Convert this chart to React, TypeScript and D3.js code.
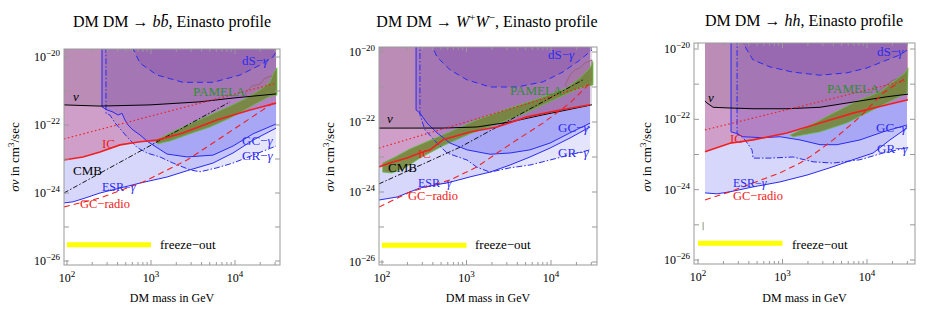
import * as d3 from "d3";
import React from "react";

type Pt = [number, number];

// ---------- DM DM -> b bbar ----------
const bbGC: Pt[] = [[261, 2e-20], [261, 3.4e-22], [299, 2.8e-22], [353, 2.4e-22], [405, 1.96e-22], [452, 2.2e-22], [490, 1.4e-22], [532, 1e-22], [611, 7.1e-23], [740, 5.1e-23], [921, 3.2e-23], [1550, 1.4e-23], [2685, 1.15e-23], [5470, 1.3e-23], [9460, 2.4e-23], [16400, 5.5e-23], [30800, 1.07e-22]];
const bbGR: Pt[] = [[291, 2e-20], [291, 2.2e-22], [325, 1.96e-22], [373, 1.15e-22], [518, 4.5e-23], [681, 2.2e-23], [896, 1.5e-23], [1280, 1.15e-23], [1830, 7.6e-24], [2910, 4.8e-24], [3830, 4.2e-24], [6100, 5.5e-24], [9460, 7.6e-24], [16400, 1.3e-23], [30800, 2.4e-23]];
const bbESR: Pt[] = [[92, 5.1e-25], [118, 5.5e-25], [164, 7.1e-25], [247, 1e-24], [428, 1.4e-24], [740, 1.96e-24], [1550, 2.95e-24], [2910, 4.8e-24], [5470, 7.6e-24], [9460, 1.5e-23], [16400, 3.6e-23], [30800, 8.1e-23]];
const bbIC: Pt[] = [[92, 9.3e-24], [155, 1.15e-23], [247, 1.6e-23], [428, 2.6e-23], [740, 3.2e-23], [1180, 3.6e-23], [2400, 5.8e-23], [6100, 1.4e-22], [15100, 2.75e-22], [30800, 4.4e-22]];
const bbDotted: Pt[] = [[92, 3.9e-23], [30800, 1.7e-21]];
const bbRadio: Pt[] = [[92, 3.9e-25], [247, 7.1e-25], [803, 2.1e-24], [2685, 9.3e-24], [5040, 2.6e-23], [11500, 1e-22], [28300, 4.4e-22]];
const bbCMB: Pt[] = [[92, 1e-24], [8720, 4.8e-22]];
const bbNu: Pt[] = [[92, 3.9e-22], [247, 3.6e-22], [973, 3.9e-22], [3830, 4.8e-22], [9460, 6.2e-22], [30800, 8.2e-22]];
const bbDS: Pt[] = [[594, 2e-20], [740, 6.6e-21], [1180, 2.95e-21], [2400, 1.8e-21], [5470, 1.8e-21], [11500, 2.95e-21], [19860, 5.8e-21], [28300, 1e-20], [30800, 1.4e-20]];
const bbPamela: Pt[] = [[1116, 3.4e-23], [1683, 5.8e-23], [2910, 1.07e-22], [5040, 1.96e-22], [8720, 3.6e-22], [13150, 5.8e-22], [19860, 1.07e-21], [26100, 1.8e-21], [29100, 3.6e-21], [31600, 4.8e-21], [31600, 7.6e-22], [24700, 6.6e-22], [15100, 3.4e-22], [8720, 1.6e-22], [5040, 8.7e-23], [2910, 5.5e-23], [1683, 3.4e-23], [1210, 2.8e-23]];
const bbLoop: Pt[] = [[13150, 8.7e-22], [15900, 1.4e-21], [19860, 1.6e-21], [22800, 2.4e-21], [27560, 2.8e-21], [30760, 3.6e-21], [30760, 1.07e-21], [26100, 1.2e-21], [20900, 9.3e-22], [17300, 7.1e-22], [14300, 6.2e-22]];

// ---------- DM DM -> W+ W- ----------
const wwGC: Pt[] = [[253, 2e-20], [253, 2.2e-22], [281, 1.8e-22], [341, 9.3e-23], [448, 4.9e-23], [638, 2.5e-23], [1015, 1.6e-23], [1900, 1.2e-23], [3270, 1.3e-23], [5640, 1.6e-23], [9730, 2.5e-23], [16800, 4.9e-23], [29000, 9.3e-23]];
const wwGR: Pt[] = [[281, 2e-20], [281, 1.6e-22], [323, 5.9e-23], [448, 2.5e-23], [587, 1.3e-23], [1015, 8.2e-24], [1330, 5.1e-24], [1900, 3.7e-24], [3270, 4.9e-24], [5640, 5.9e-24], [9730, 8.2e-24], [16800, 1.15e-23], [29000, 1.6e-23]];
const wwESR: Pt[] = [[92, 5.9e-25], [151, 7.2e-25], [281, 1.3e-24], [638, 1.9e-24], [1100, 2.7e-24], [1900, 3.7e-24], [3270, 5.9e-24], [5640, 1e-23], [9730, 1.8e-23], [16800, 3.5e-23], [29000, 7.2e-23]];
const wwIC: Pt[] = [[92, 5.2e-24], [124, 6.7e-24], [198, 9.3e-24], [281, 1.3e-23], [370, 1.6e-23], [527, 3.1e-23], [1100, 5.2e-23], [2300, 7.2e-23], [5200, 1.4e-22], [12800, 2.2e-22], [29000, 3.1e-22]];
const wwDotted: Pt[] = [[92, 1.8e-23], [29000, 1.15e-21]];
const wwRadio: Pt[] = [[92, 3.7e-25], [214, 1e-24], [638, 2.2e-24], [1330, 5.2e-24], [2300, 1.3e-23], [3960, 3.1e-23], [8030, 9.3e-23], [16800, 3.5e-22], [29000, 1.3e-21]];
const wwCMB: Pt[] = [[92, 1.7e-24], [837, 1.9e-23], [23900, 1.6e-21]];
const wwNu: Pt[] = [[92, 6.7e-23], [214, 6.7e-23], [527, 6.7e-23], [1330, 7.2e-23], [3270, 1e-22], [8030, 1.6e-22], [30600, 3.1e-22]];
const wwDS: Pt[] = [[370, 2e-20], [448, 7.2e-21], [638, 3.1e-21], [1015, 1.6e-21], [1900, 1e-21], [3960, 1e-21], [8030, 1.4e-21], [13900, 2.7e-21], [22000, 5.9e-21], [30600, 1.15e-20]];
const wwPamela: Pt[] = [[102, 6.7e-24], [143, 1e-23], [214, 1.7e-23], [527, 4.3e-23], [1330, 1.15e-22], [3270, 2.5e-22], [8030, 5.2e-22], [15400, 9.4e-22], [22000, 1.8e-21], [29000, 3.5e-21], [31400, 5.2e-21], [31400, 1.15e-21], [22000, 9.4e-22], [12800, 5.2e-22], [5200, 1.9e-22], [2300, 8.8e-23], [1100, 4.6e-23], [527, 2.1e-23], [281, 9.3e-24], [187, 4.9e-24], [131, 3.5e-24], [102, 3.7e-24]];
const wwLoop: Pt[] = [[14700, 1.15e-21], [16800, 2.2e-21], [19200, 3.1e-21], [22000, 3.5e-21], [25200, 4.9e-21], [30600, 5.9e-21], [30600, 1.6e-21], [25200, 1.4e-21], [20900, 1.07e-21], [16800, 8.2e-22]];

// ---------- DM DM -> h h ----------
const hhGC: Pt[] = [[246, 2e-20], [246, 4.4e-23], [274, 4.1e-23], [341, 3.2e-23], [587, 3e-23], [933, 3.2e-23], [1610, 2.6e-23], [2780, 1.9e-23], [4420, 1.9e-23], [8260, 2.6e-23], [15500, 4.4e-23], [29700, 6.9e-23]];
const hhGR: Pt[] = [[290, 2e-20], [290, 4.1e-23], [360, 2.6e-23], [436, 1.35e-23], [448, 7.9e-24], [711, 7.9e-24], [1330, 8.5e-24], [2300, 6.2e-24], [3960, 5.7e-24], [8260, 7.1e-24], [15500, 1.1e-23], [29700, 1.55e-23]];
const hhESR: Pt[] = [[121, 8.1e-25], [168, 7.6e-25], [239, 8.7e-25], [448, 1.2e-24], [933, 1.66e-24], [1950, 2.6e-24], [3650, 4.2e-24], [6830, 7.1e-24], [11800, 1.1e-23], [18700, 2.6e-23], [29700, 5.7e-23]];
const hhIC: Pt[] = [[121, 1.2e-23], [239, 2.1e-23], [448, 2.6e-23], [1130, 4.1e-23], [2780, 7.9e-23], [6830, 1.5e-22], [17300, 2.6e-22], [30600, 3.6e-22]];
const hhDotted: Pt[] = [[121, 5e-23], [29700, 1.3e-21]];
const hhRadio: Pt[] = [[121, 5.1e-25], [239, 8.7e-25], [448, 1.55e-24], [933, 3e-24], [1610, 5.7e-24], [2300, 9.8e-24], [3960, 2.6e-23], [8260, 1.17e-22], [15500, 5.6e-22], [29700, 1.6e-21]];
const hhNu: Pt[] = [[121, 3.3e-22], [128, 2.9e-22], [151, 2.2e-22], [239, 2.1e-22], [448, 2e-22], [1130, 2e-22], [2780, 2.2e-22], [6830, 3.1e-22], [17300, 4.4e-22], [30600, 5.2e-22]];
const hhDS: Pt[] = [[314, 2e-20], [448, 4.9e-21], [711, 3.1e-21], [1330, 2.2e-21], [2780, 1.8e-21], [5790, 2.1e-21], [10000, 2.9e-21], [17300, 4.9e-21], [24600, 6.8e-21], [29700, 9.3e-21]];
const hhPamela: Pt[] = [[1230, 3.6e-23], [1950, 6e-23], [3960, 1.5e-22], [8260, 3.6e-22], [14300, 6e-22], [20300, 1.15e-21], [28200, 2.1e-21], [30600, 2.9e-21], [29700, 5.6e-22], [20300, 3.6e-22], [11800, 1.86e-22], [5790, 7.9e-23], [2780, 4.4e-23], [1330, 3.2e-23]];
const hhLoop: Pt[] = [[12400, 4.9e-22], [15100, 7.8e-22], [17700, 1.02e-21], [20300, 1.3e-21], [24600, 1.5e-21], [29700, 1.8e-21], [29700, 6e-22], [24600, 5.2e-22], [20300, 4.6e-22], [15900, 4.1e-22]];
const hhMark: Pt[] = [[115, 1.2e-25], [115, 7e-26]];

const freezeOut: Pt[] = [[100, 3e-26], [1000, 3e-26]];
const xTickExps = [2, 3, 4];
const yTickExps = [-20, -22, -24, -26];

const FONT = "'Liberation Serif', 'Times New Roman', serif";
const BLUE = "#2a2af2";
const RED = "#f02020";
const GREEN = "#2f8f2f";

const panels = [
  {
    id: "bb", frame: [64, 49, 280, 265], xr: [67, 235], yr: [57, 261], titleX: 172, titleY: 27, ylabX: 19,
    gc: bbGC, gr: bbGR, esr: bbESR, ic: bbIC, dotted: bbDotted, radio: bbRadio, cmb: bbCMB, nu: bbNu, ds: bbDS, pamela: bbPamela, loop: bbLoop, mark: null,
    lab: { ds: [178, 16], pamela: [129, 47], nu: [9, 52], gc: [178, 96], gr: [178, 111], ic: [38, 99], cmb: [9, 126], esr: [38, 142], radio: [16, 159], freeze: [96, 200] },
  },
  {
    id: "ww", frame: [379, 47, 597, 265], xr: [382, 551], yr: [52, 262], titleX: 487, titleY: 27, ylabX: 334,
    gc: wwGC, gr: wwGR, esr: wwESR, ic: wwIC, dotted: wwDotted, radio: wwRadio, cmb: wwCMB, nu: wwNu, ds: wwDS, pamela: wwPamela, loop: wwLoop, mark: null,
    lab: { ds: [169, 12], pamela: [131, 48], nu: [8, 76], gc: [179, 85], gr: [179, 110], ic: [39, 111], cmb: [9, 125], esr: [39, 140], radio: [29, 153], freeze: [96, 202] },
  },
  {
    id: "hh", frame: [694, 43, 915, 264], xr: [698, 867], yr: [49, 260], titleX: 804, titleY: 26, ylabX: 651,
    gc: hhGC, gr: hhGR, esr: hhESR, ic: hhIC, dotted: hhDotted, radio: hhRadio, cmb: null, nu: hhNu, ds: hhDS, pamela: hhPamela, loop: hhLoop, mark: hhMark,
    lab: { ds: [183, 13], pamela: [133, 50], nu: [14, 59], gc: [182, 89], gr: [183, 110], ic: [36, 100], cmb: null, esr: [39, 144], radio: [39, 157], freeze: [98, 206] },
  },
];

const Title = ({ id }: { id: string }) => {
  if (id === "bb")
    return (<>DM DM → <tspan fontStyle="italic">b</tspan><tspan fontStyle="italic">b&#x0304;</tspan>, Einasto profile</>);
  if (id === "ww")
    return (
      <>DM DM → <tspan fontStyle="italic">W</tspan><tspan dy={-6} fontSize={11}>+</tspan>
        <tspan dy={6} fontStyle="italic">W</tspan><tspan dy={-6} fontSize={11}>−</tspan><tspan dy={6}>, Einasto profile</tspan></>
    );
  return (<>DM DM → <tspan fontStyle="italic">hh</tspan>, Einasto profile</>);
};

const Panel = ({ p }: { p: any }) => {
  const [x0, y0, x1, y1] = p.frame;
  const xs = d3.scaleLog().domain([100, 10000]).range(p.xr);
  const ys = d3.scaleLog().domain([1e-20, 1e-26]).range(p.yr);
  const line = d3.line<Pt>().x((d) => xs(d[0])).y((d) => ys(d[1]));
  const above = (pts: Pt[]) => line([...pts, [pts[pts.length - 1][0], 1e-18], [pts[0][0], 1e-18]]) + "Z";
  const clipId = "clip-" + p.id;

  const xticks: { px: number; major: boolean }[] = [];
  for (let e = 1; e <= 4; e++)
    for (let j = 1; j <= 9; j++) {
      const px = xs(j * 10 ** e);
      if (px > x0 + 0.5 && px < x1 - 0.5) xticks.push({ px, major: j === 1 });
    }
  const yticks: number[] = [];
  for (let e = -26; e <= -20; e++) yticks.push(ys(10 ** e));

  const L = p.lab;
  const lbl = (key: string, content: any, color: string, size = 13) =>
    L[key] ? (
      <text x={x0 + L[key][0]} y={y0 + L[key][1]} fill={color} fontSize={size}>{content}</text>
    ) : null;
  const gam = <tspan fontStyle="italic">γ</tspan>;

  return (
    <g fontFamily={FONT}>
      <defs>
        <clipPath id={clipId}><rect x={x0} y={y0} width={x1 - x0} height={y1 - y0} /></clipPath>
      </defs>
      <text x={p.titleX} y={p.titleY} textAnchor="middle" fontSize={16}><Title id={p.id} /></text>
      <g clipPath={`url(#${clipId})`}>
        <path d={above(p.esr)} fill="rgb(140,140,245)" fillOpacity={0.35} />
        <path d={above(p.gr)} fill="rgb(120,120,240)" fillOpacity={0.2} />
        <path d={above(p.gc)} fill="rgb(100,100,240)" fillOpacity={0.3} />
        <path d={above(p.ic)} fill="rgb(195,75,125)" fillOpacity={0.4} />
        <path d={above(p.nu)} fill="rgb(110,70,110)" fillOpacity={0.2} />
        <path d={above(p.ds)} fill="rgb(110,60,170)" fillOpacity={0.22} />
        <path d={line(p.loop) + "Z"} fill="rgb(175,120,150)" fillOpacity={0.35} stroke="rgb(150,100,125)" strokeWidth={1} />
        <path d={line(p.pamela) + "Z"} fill="rgb(115,135,55)" fillOpacity={0.9} stroke="rgb(100,190,70)" strokeWidth={0.8} />
        {p.mark && <path d={line(p.mark)!} stroke="#8a9a7a" strokeWidth={1} />}
        <path d={line(p.esr)!} fill="none" stroke={BLUE} strokeWidth={1} />
        <path d={line(p.gr)!} fill="none" stroke={BLUE} strokeWidth={1} strokeDasharray="6,2,1.5,2" />
        <path d={line(p.gc)!} fill="none" stroke={BLUE} strokeWidth={1} />
        <path d={line(p.ds)!} fill="none" stroke={BLUE} strokeWidth={1} strokeDasharray="6,4" />
        <path d={line(p.nu)!} fill="none" stroke="#000" strokeWidth={1} />
        {p.cmb && <path d={line(p.cmb)!} fill="none" stroke="#000" strokeWidth={0.9} strokeDasharray="5,2,1.5,2" />}
        <path d={line(p.dotted)!} fill="none" stroke={RED} strokeWidth={1.2} strokeDasharray="1.5,2.5" />
        <path d={line(p.radio)!} fill="none" stroke={RED} strokeWidth={1.1} strokeDasharray="6,4" />
        <path d={line(p.ic)!} fill="none" stroke={RED} strokeWidth={1.6} />
        <path d={line(freezeOut)!} fill="none" stroke="#ffff00" strokeWidth={5} />
      </g>
      {lbl("ds", <>dS−{gam}</>, BLUE)}
      {lbl("pamela", "PAMELA", GREEN)}
      {lbl("nu", <tspan fontStyle="italic">ν</tspan>, "#000")}
      {lbl("gc", <>GC−{gam}</>, BLUE)}
      {lbl("gr", <>GR−{gam}</>, BLUE)}
      {lbl("ic", "IC", RED)}
      {lbl("cmb", "CMB", "#000")}
      {lbl("esr", <>ESR−{gam}</>, BLUE, 12)}
      {lbl("radio", "GC−radio", RED, 12.5)}
      {lbl("freeze", "freeze−out", "#000")}
      <rect x={x0} y={y0} width={x1 - x0} height={y1 - y0} fill="none" stroke="#999" strokeWidth={1} />
      {xticks.map((t, i) => (
        <g key={"xt" + i} stroke="#999">
          <line x1={t.px} x2={t.px} y1={y1} y2={y1 - (t.major ? 5 : 3)} />
          <line x1={t.px} x2={t.px} y1={y0} y2={y0 + (t.major ? 5 : 3)} />
        </g>
      ))}
      {yticks.map((py, i) => (
        <g key={"yt" + i} stroke="#999">
          <line x1={x0} x2={x0 + 5} y1={py} y2={py} />
          <line x1={x1} x2={x1 - 5} y1={py} y2={py} />
        </g>
      ))}
      {xTickExps.map((e) => (
        <text key={"xl" + e} x={xs(10 ** e)} y={y1 + 17} textAnchor="middle" fontSize={12}>
          10<tspan dy={-5} fontSize={9}>{e}</tspan>
        </text>
      ))}
      {yTickExps.map((e) => (
        <text key={"yl" + e} x={x0 - 4} y={ys(10 ** e) + 4} textAnchor="end" fontSize={12}>
          10<tspan dy={-5} fontSize={9}>{"−" + Math.abs(e)}</tspan>
        </text>
      ))}
      <text x={(x0 + x1) / 2} y={302} textAnchor="middle" fontSize={12}>DM mass in GeV</text>
      <text transform={`translate(${p.ylabX},157) rotate(-90)`} textAnchor="middle" fontSize={13}>
        <tspan fontStyle="italic">σv</tspan> in cm<tspan dy={-5} fontSize={9}>3</tspan><tspan dy={5}>/sec</tspan>
      </text>
    </g>
  );
};

export default function App() {
  return (
    <svg width={926} height={317} style={{ position: "absolute", left: 0, top: 0, background: "#fff" }}>
      <rect width={926} height={317} fill="#fff" />
      {panels.map((p) => <Panel key={p.id} p={p} />)}
    </svg>
  );
}
